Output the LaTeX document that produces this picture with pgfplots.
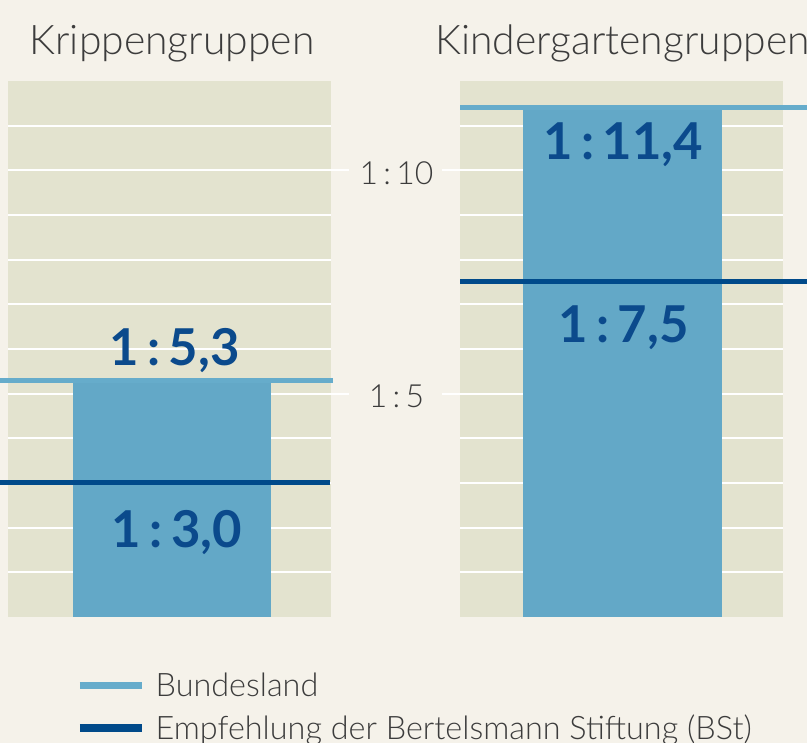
\documentclass[border=0pt]{standalone}
\usepackage{pgfplots}
\pgfplotsset{compat=1.18}
\usepackage{fontspec}
\setmainfont{Lato}
\newfontfamily\light{Lato Light}
\definecolor{bg}{HTML}{F5F2EA}
\definecolor{panel}{HTML}{E3E3CF}
\definecolor{barc}{HTML}{63A8C7}
\definecolor{lline}{HTML}{66ACCB}
\definecolor{dline}{HTML}{004A8A}
\definecolor{lab}{HTML}{0B4A8C}
\definecolor{txt}{HTML}{3C3C3C}
\begin{document}
\begin{tikzpicture}[x=1bp,y=1bp]
\fill[bg] (0,0) rectangle (807,743);
\pgfplotsset{panel/.style={
  scale only axis, width=323bp, height=536bp,
  xmin=0, xmax=323, ymin=0, ymax=12,
  axis background/.style={fill=panel},
  axis line style={draw=none},
  ytick={1,...,11}, xtick=\empty, yticklabels={},
  ymajorgrids, grid style={white, line width=2bp},
  major tick length=0pt,
  extra y ticks={5,10}, extra y tick labels={},
  extra y tick style={grid=none, tick align=outside, major tick length=18bp,
     tick style={white, line width=2bp}},
  clip=false, anchor=south west,
  legend image code/.code={\draw[#1, line width=7.5bp] (0bp,0bp) -- (62bp,0bp);},
}}
% ---------- Krippengruppen
\begin{axis}[panel, at={(8bp,126bp)}, ytick pos=right,
  legend style={at={(axis cs:68,-1.2)}, anchor=north west, draw=none, fill=none,
    inner sep=0pt, font=\light\fontsize{32.5}{32.5}\selectfont, text=txt,
    row sep=13bp, nodes={inner xsep=10bp}},
  legend cell align=left]
\addplot[ybar, bar width=198bp, fill=barc, draw=none, forget plot] coordinates {(164,5.3)};
\addplot[lline, line width=5bp] coordinates {(-8,5.3) (325,5.3)};
\addplot[dline, line width=5bp] coordinates {(-8,3.0) (322,3.0)};
\legend{Bundesland, Empfehlung der Bertelsmann Stiftung (BSt)}
\node[anchor=base, text=lab, font=\bfseries\fontsize{51}{51}\selectfont] at (axis cs:166.6,5.62) {1\,:\,5,3};
\node[anchor=base, text=lab, font=\bfseries\fontsize{51}{51}\selectfont] at (axis cs:169,1.557) {1\,:\,3,0};
\node[anchor=base, text=txt, font=\light\fontsize{41}{41}\selectfont] at (axis cs:164,12.6) {Krippengruppen};
\node[anchor=base, text=txt, font=\light\fontsize{32}{32}\selectfont] at (axis cs:388.5,9.686) {1\,:\,10};
\node[anchor=base, text=txt, font=\light\fontsize{32}{32}\selectfont] at (axis cs:388.5,4.7) {1\,:\,5};
\end{axis}
% ---------- Kindergartengruppen
\begin{axis}[panel, at={(460bp,126bp)}, ytick pos=left]
\addplot[ybar, bar width=199bp, fill=barc, draw=none] coordinates {(162.5,11.4)};
\addplot[lline, line width=5bp] coordinates {(0,11.4) (347,11.4)};
\addplot[dline, line width=5bp] coordinates {(0,7.5) (347,7.5)};
\node[anchor=base, text=lab, font=\bfseries\fontsize{51}{51}\selectfont] at (axis cs:163,10.25) {1\,:\,11,4};
\node[anchor=base, text=lab, font=\bfseries\fontsize{51}{51}\selectfont] at (axis cs:163.5,6.15) {1\,:\,7,5};
\node[anchor=base, text=txt, font=\light\fontsize{41}{41}\selectfont] at (axis cs:162.5,12.6) {Kindergartengruppen};
\end{axis}
\pgfresetboundingbox
\path[use as bounding box] (0bp,0bp) rectangle (807bp,743bp);
\end{tikzpicture}
\end{document}
